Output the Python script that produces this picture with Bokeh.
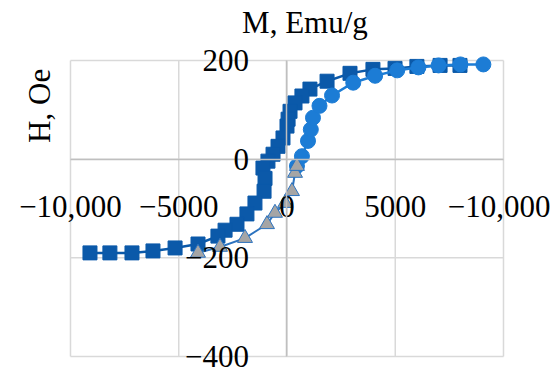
import math
from bokeh.plotting import figure
from bokeh.models import Range1d, LinearAxis, FixedTicker, Label
from bokeh.embed import file_html
from bokeh.resources import INLINE

# Series 1: squares (dark blue)
sq_h = [7990, 7070, 6000, 4990, 3970, 2910, 1850, 1060, 690, 370, 140, 50, 0,
        -185, -415, -645, -880, -1110, -1015, -1060, -1480, -1850, -2310, -2860,
        -3190, -4110, -5170, -6190, -7160, -8180, -9100]
sq_m = [190, 190, 188, 184, 182, 174, 158, 142, 128, 114, 97, 81, 67,
        43, 26, 10, -4, -18, -39, -65, -89, -111, -132, -144,
        -156, -172, -180, -186, -190, -190, -190]

# Series 2: circles (light blue)
ci_h = [460, 690, 970, 1100, 1200, 1500, 2080, 3060, 4070, 5090, 6070, 7000, 8010, 9070]
ci_m = [-14, 6, 37, 60, 84, 108, 129, 155, 169, 180, 186, 190, 192, 192]

# Series 3: triangles (grey)
tr_h = [-4110, -3095, -1940, -925, -555, -90, 230, 370, 460]
tr_m = [-190, -178, -160, -132, -109, -89, -65, -28, -14]

x_ticks = [-10000, -5000, 0, 5000, 10000]
x_tick_labels = ["\u221210,000", "\u22125000", "0", "5000", "\u221210,000"]
y_ticks = [-400, -200, 0, 200]
y_tick_labels = ["\u2212400", "\u2212200", "0", "200"]

x_title = "M, Emu/g"
y_title = "H, Oe"

X_MIN, X_MAX = -10000, 10000
Y_MIN, Y_MAX = -400, 200

FONT = "Liberation Serif"
FS = "31px"

p = figure(width=550, height=377, output_backend="svg", toolbar_location=None,
           x_range=Range1d(-13233, 12171), y_range=Range1d(-442.6, 321.6),
           x_axis_location=None, y_axis_location=None, min_border=0)
p.outline_line_color = None
p.background_fill_color = "white"
p.border_fill_color = "white"
p.xgrid.visible = False
p.ygrid.visible = False

# gridlines built from the tick arrays, bounded to the plot area
p.segment(x0=x_ticks, y0=[Y_MIN] * len(x_ticks), x1=x_ticks, y1=[Y_MAX] * len(x_ticks),
          line_color="#D9D9D9", line_width=1.5)
p.segment(x0=[X_MIN] * len(y_ticks), y0=y_ticks, x1=[X_MAX] * len(y_ticks), y1=y_ticks,
          line_color="#D9D9D9", line_width=1.5)

xt = FixedTicker(ticks=x_ticks)
yt = FixedTicker(ticks=y_ticks)
xa = LinearAxis(ticker=xt, fixed_location=0, bounds=(X_MIN, X_MAX),
                major_label_overrides={v: s for v, s in zip(x_ticks, x_tick_labels)})
ya = LinearAxis(ticker=yt, fixed_location=0, bounds=(Y_MIN, Y_MAX),
                major_label_overrides={v: s for v, s in zip(y_ticks, y_tick_labels)})
for ax in (xa, ya):
    ax.axis_line_color = "#BFBFBF"
    ax.axis_line_width = 1.5
    ax.major_tick_line_color = None
    ax.minor_tick_line_color = None
    ax.major_label_text_font = FONT
    ax.major_label_text_font_size = FS
    ax.major_label_text_color = "black"
xa.major_label_standoff = 31
ya.major_label_standoff = 32
p.add_layout(xa, "below")
p.add_layout(ya, "left")

SQ = "#0B59A9"
CI = "#1C7CD5"
p.line(sq_h, sq_m, line_color=SQ, line_width=2.5)
p.scatter(sq_h, sq_m, marker="square", size=14, fill_color=SQ, line_color=SQ)
p.line(ci_h, ci_m, line_color=CI, line_width=2.5)
p.scatter(ci_h, ci_m, marker="circle", size=15, fill_color=CI, line_color=CI)
p.line(tr_h, tr_m, line_color="#2C73BF", line_width=2)
p.scatter(tr_h, tr_m, marker="triangle", size=15, fill_color="#A5A5A5", line_color="#2C73BF", line_width=1)

p.add_layout(Label(x=830, y=277, text=x_title, text_font=FONT, text_font_size=FS,
                   text_align="center", text_baseline="middle", text_color="black"))
p.add_layout(Label(x=-11436, y=108, text=y_title, text_font=FONT, text_font_size=FS,
                   angle=math.pi / 2, text_align="center", text_baseline="middle",
                   text_color="black"))

open("out.html", "w").write(file_html(p, INLINE))
